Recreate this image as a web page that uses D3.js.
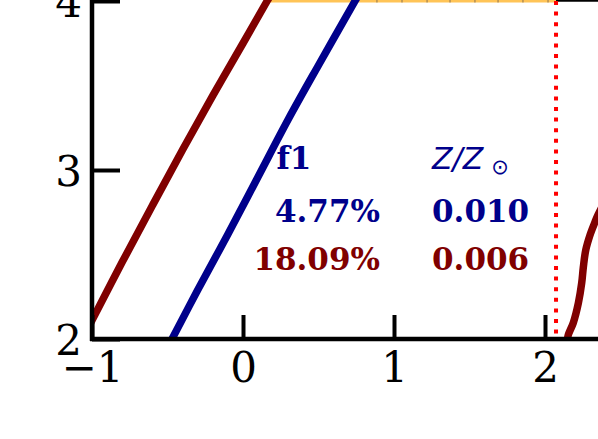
<!DOCTYPE html>
<html>
<head>
<meta charset="utf-8">
<script src="https://d3js.org/d3.v7.min.js"></script>
<style>
body { margin: 0; background: white; }
text { font-family: "DejaVu Serif", serif; }
</style>
</head>
<body>
<svg id="chart" width="598" height="439"></svg>
<script>
// tick values
var xTicks = [-1, 0, 1, 2];
var yTicks = [2, 3, 4];

// left maroon curve
var redX = [-1.05, -1.0, -0.8, -0.6, -0.4, -0.2, 0.0, 0.16, 0.22];
var redY = [2.02, 2.11, 2.455, 2.79, 3.12, 3.44, 3.75, 4.0, 4.09];

// blue curve
var blueX = [-0.50, -0.47, -0.3, -0.1, 0.1, 0.3, 0.5, 0.742, 0.80];
var blueY = [1.95, 2.0, 2.29, 2.62, 2.96, 3.30, 3.62, 4.0, 4.09];

// right maroon curve
var red2X = [2.148, 2.154, 2.187, 2.221, 2.243, 2.254, 2.270, 2.298, 2.331, 2.351, 2.40];
var red2Y = [1.99, 2.024, 2.095, 2.213, 2.331, 2.426, 2.527, 2.615, 2.692, 2.734, 2.82];

// orange level at the top
var orangeX = [0.18, 2.073];
var orangeY = 4;
var markX = [0.887, 1.053, 1.219, 1.371, 1.536, 1.689, 1.854, 2.020];

// red dotted vertical
var vlineX = 2.073;

// labels
var labelRows = [
  {text: "4.77%", z: "0.010", color: "#00008b", y: 2.692},
  {text: "18.09%", z: "0.006", color: "#800000", y: 2.408}
];

var svg = d3.select("#chart");
var x = d3.scaleLinear().domain([-1, 2]).range([92, 545]);
var y = d3.scaleLinear().domain([2, 4]).range([339, 1]);

svg.append("defs").append("clipPath").attr("id", "plot")
  .append("rect").attr("x", 92).attr("y", -5).attr("width", 520).attr("height", 344);

var g = svg.append("g").attr("clip-path", "url(#plot)");

var line = d3.line()
  .x(function(d) { return x(d[0]); })
  .y(function(d) { return y(d[1]); })
  .curve(d3.curveCatmullRom);

// orange top line
g.append("line")
  .attr("x1", x(orangeX[0])).attr("x2", x(orangeX[1]))
  .attr("y1", y(orangeY)).attr("y2", y(orangeY))
  .style("stroke", "#ffc457").style("stroke-width", 3);
g.selectAll(".mark").data(markX).enter().append("line")
  .attr("x1", function(d) { return x(d); }).attr("x2", function(d) { return x(d); })
  .attr("y1", y(orangeY) - 1).attr("y2", y(orangeY) + 1.5)
  .style("stroke", "#a08050").style("stroke-width", 1.2);
// black top edge to the right of the dotted line
g.append("line")
  .attr("x1", x(vlineX)).attr("x2", 600)
  .attr("y1", y(orangeY) - 0.5).attr("y2", y(orangeY) - 0.5)
  .style("stroke", "black").style("stroke-width", 2.5);

g.append("path").datum(d3.zip(redX, redY)).attr("d", line)
  .style("fill", "none").style("stroke", "#800000").style("stroke-width", 7.5);
g.append("path").datum(d3.zip(blueX, blueY)).attr("d", line)
  .style("fill", "none").style("stroke", "#00008b").style("stroke-width", 7.5);
g.append("path").datum(d3.zip(red2X, red2Y)).attr("d", line)
  .style("fill", "none").style("stroke", "#800000").style("stroke-width", 7.5);

g.append("line")
  .attr("x1", x(vlineX)).attr("x2", x(vlineX))
  .attr("y1", y(4)).attr("y2", y(2))
  .style("stroke", "red").style("stroke-width", 4)
  .style("stroke-dasharray", "4 6.6");

// axes
var xAxis = svg.append("g").attr("transform", "translate(0,339)")
  .call(d3.axisBottom(x).tickValues(xTicks).tickSize(-24).tickPadding(12)
    .tickFormat(function(d) { return d < 0 ? "\u2212" + Math.abs(d) : d; }));
var yAxis = svg.append("g").attr("transform", "translate(92,0)")
  .call(d3.axisLeft(y).tickValues(yTicks).tickSize(-28).tickPadding(10)
    .tickFormat(d3.format("d")));

[xAxis, yAxis].forEach(function(a) {
  a.select(".domain").remove();
  a.selectAll(".tick line").style("stroke", "black").style("stroke-width", 4);
  a.selectAll(".tick text").style("font-family", "DejaVu Serif")
    .style("font-size", "42px").attr("fill", "black");
});
xAxis.selectAll(".tick text").attr("dy", "0.73em");
yAxis.selectAll(".tick text").attr("dy", "0.36em");

// spines
svg.append("line").attr("x1", 92).attr("x2", 92).attr("y1", -2).attr("y2", 341)
  .style("stroke", "black").style("stroke-width", 4.5);
svg.append("line").attr("x1", 90).attr("x2", 600).attr("y1", 339).attr("y2", 339)
  .style("stroke", "black").style("stroke-width", 4.5);

// annotation text
svg.append("text").attr("x", x(0.222)).attr("y", y(3.006))
  .style("font-weight", "bold").style("font-size", "31px")
  .attr("fill", "#00008b").text("f1");

var zt = svg.append("text").attr("x", x(1.252)).attr("y", y(3.006))
  .style("font-family", "DejaVu Sans").style("font-style", "italic")
  .style("font-size", "30px").attr("fill", "#00008b");
zt.append("tspan").text("Z/Z");
zt.append("tspan").attr("dx", 8).attr("dy", 5).style("font-style", "normal")
  .style("font-size", "21px").text("\u2299");

labelRows.forEach(function(r) {
  svg.append("text").attr("x", x(0.907)).attr("y", y(r.y))
    .attr("text-anchor", "end")
    .style("font-weight", "bold").style("font-size", "31px")
    .attr("fill", r.color).text(r.text);
  svg.append("text").attr("x", x(1.252)).attr("y", y(r.y))
    .style("font-weight", "bold").style("font-size", "31px")
    .attr("fill", r.color).text(r.z);
});
</script>
</body>
</html>
